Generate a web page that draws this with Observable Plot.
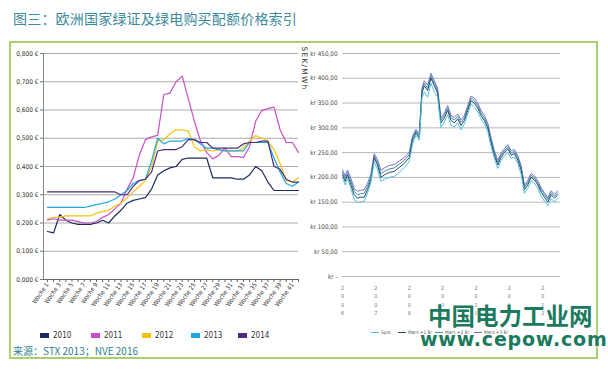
<!DOCTYPE html>
<html><head><meta charset="utf-8">
<script src="https://cdn.jsdelivr.net/npm/d3@7"></script>
<script src="https://cdn.jsdelivr.net/npm/@observablehq/plot@0.6"></script>
<style>
body{margin:0;width:608px;height:369px;background:#fff;position:relative;overflow:hidden;font-family:"Noto Sans CJK SC","Noto Sans",sans-serif;}
#title{position:absolute;left:13px;top:8px;font-size:14px;color:#3b8a9c;letter-spacing:0.2px;white-space:nowrap;}
#box{position:absolute;left:9px;top:41px;width:589px;height:318px;border:2px solid #a9d06e;box-sizing:border-box;}
#left{position:absolute;left:10px;top:44px;}
#right{position:absolute;left:300px;top:44px;}
.narrow{font-family:"Liberation Sans Narrow","DejaVu Sans Condensed",sans-serif;}
#legL .it{position:absolute;top:331px;font-size:8px;color:#333;display:flex;align-items:center;}
#legL .sw{width:9px;height:5px;margin-right:4px;}
#legR .it{position:absolute;top:330px;font-size:4.8px;color:#555;display:flex;align-items:center;white-space:nowrap;}
#legR .ln{width:8px;height:1.3px;margin-right:2px;}
#src{position:absolute;left:13px;top:343px;font-size:10px;color:#2e7f8e;white-space:nowrap;}
#unit{position:absolute;left:274px;top:64px;font-family:"DejaVu Sans",sans-serif;font-size:7.5px;color:#333;transform:rotate(90deg);transform-origin:center;white-space:nowrap;width:60px;text-align:center;letter-spacing:1.2px;}
#wm1{position:absolute;left:428px;top:298px;font-size:23.5px;font-weight:700;color:#1b7a5e;white-space:nowrap;text-shadow:0 0 3px #fff,0 0 3px #fff;}
#wm2{position:absolute;left:420px;top:328px;font-family:"DejaVu Sans",sans-serif;font-size:19px;font-weight:700;color:#1b7a5e;letter-spacing:0.8px;white-space:nowrap;text-shadow:0 0 3px #fff,0 0 3px #fff;}
</style></head>
<body>
<div id="title">图三：欧洲国家绿证及绿电购买配额价格索引</div>
<div id="box"></div>
<div id="left"></div>
<div id="right"></div>
<div id="unit">SEK/MWh</div>
<div id="legL" class="narrow"></div>
<div id="legR" class="narrow"></div>
<div id="src">来源：STX 2013；NVE 2016</div>
<div id="wm1">中国电力工业网</div>
<div id="wm2">www.cepow.com</div>
<script>
// ---------- Left chart data (€ per certificate, by week) ----------
const weeks = [1,2,3,4,5,6,7,8,9,10,11,12,13,14,15,16,17,18,19,20,21,22,23,24,25,26,27,28,29,30,31,32,33,34,35,36,37,38,39,40,41,42];
const leftYears = ["2010","2011","2012","2013","2014"];
const leftColors = ["#1b2a5e","#c94fc9","#f4c20d","#20a7df","#4e2d7e"];
const v2010 = [0.17,0.165,0.23,0.21,0.20,0.195,0.195,0.195,0.20,0.21,0.20,0.225,0.245,0.27,0.28,0.285,0.29,0.32,0.37,0.385,0.395,0.40,0.425,0.43,0.43,0.43,0.43,0.36,0.36,0.36,0.36,0.355,0.355,0.37,0.40,0.385,0.345,0.315,0.315,0.315,0.315,0.315];
const v2011 = [0.21,0.215,0.21,0.21,0.21,0.205,0.20,0.20,0.205,0.22,0.23,0.25,0.27,0.32,0.36,0.44,0.495,0.505,0.51,0.655,0.66,0.70,0.72,0.64,0.56,0.49,0.45,0.427,0.44,0.465,0.435,0.435,0.432,0.47,0.56,0.598,0.605,0.61,0.53,0.485,0.485,0.45];
const v2012 = [0.215,0.22,0.22,0.225,0.225,0.225,0.225,0.225,0.235,0.24,0.245,0.26,0.27,0.29,0.31,0.33,0.35,0.40,0.49,0.495,0.515,0.53,0.53,0.525,0.47,0.455,0.46,0.455,0.46,0.455,0.455,0.455,0.465,0.49,0.51,0.50,0.49,0.46,0.41,0.35,0.345,0.36];
const v2013 = [0.255,0.255,0.255,0.255,0.255,0.255,0.255,0.26,0.265,0.27,0.275,0.285,0.30,0.315,0.34,0.35,0.355,0.42,0.50,0.48,0.49,0.49,0.49,0.50,0.495,0.48,0.465,0.465,0.46,0.455,0.455,0.455,0.455,0.485,0.485,0.485,0.485,0.43,0.38,0.34,0.33,0.345];
const v2014 = [0.31,0.31,0.31,0.31,0.31,0.31,0.31,0.31,0.31,0.31,0.31,0.31,0.30,0.30,0.33,0.35,0.355,0.38,0.455,0.46,0.46,0.46,0.47,0.495,0.495,0.485,0.485,0.465,0.465,0.465,0.465,0.465,0.48,0.485,0.485,0.49,0.49,0.40,0.39,0.355,0.345,0.345];
const leftTicks = [0,0.1,0.2,0.3,0.4,0.5,0.6,0.7,0.8];

// ---------- Right chart data (SEK/MWh) ----------
const dates = [2006.00,2006.08,2006.15,2006.25,2006.35,2006.45,2006.55,2006.65,2006.75,2006.85,2006.95,2007.05,2007.15,2007.25,2007.40,2007.55,2007.70,2007.85,2008.00,2008.10,2008.20,2008.30,2008.38,2008.45,2008.55,2008.65,2008.75,2008.85,2008.95,2009.05,2009.15,2009.25,2009.35,2009.45,2009.55,2009.65,2009.75,2009.85,2009.95,2010.05,2010.15,2010.25,2010.35,2010.45,2010.55,2010.65,2010.75,2010.85,2010.95,2011.05,2011.15,2011.25,2011.35,2011.45,2011.55,2011.65,2011.75,2011.85,2011.95,2012.05,2012.15,2012.25,2012.35,2012.45];
const spot  = [200,185,198,178,155,150,150,152,168,190,232,215,192,196,200,202,210,220,232,268,285,275,360,372,362,390,372,362,300,312,326,305,302,310,296,308,328,348,342,332,318,308,293,262,238,218,234,244,250,238,241,228,207,168,178,193,188,178,162,152,143,157,150,158];
const mars1 = [205,192,205,185,165,158,160,160,175,195,240,225,200,205,210,212,220,228,240,275,290,280,370,385,375,400,385,370,310,320,335,315,310,318,305,315,335,355,350,340,325,315,300,270,245,225,240,250,258,245,248,235,215,175,185,200,195,185,170,160,150,165,158,165];
const mars2 = [210,198,210,192,172,165,167,168,182,200,244,230,207,212,217,219,227,234,246,280,294,284,375,390,380,405,390,375,315,325,340,320,316,323,311,320,340,360,355,345,330,320,305,275,250,230,245,254,262,250,252,240,220,180,190,204,199,189,175,165,155,169,162,169];
const mars3 = [215,203,215,198,178,172,174,175,188,206,248,236,214,219,224,226,233,240,251,284,297,288,380,395,386,410,395,380,320,330,345,325,321,328,316,325,345,364,360,350,335,325,310,280,254,234,249,258,266,254,256,244,224,184,194,208,203,193,179,169,159,173,166,173];
const rightSeries = ["Spot","Mars +1 år","Mars +2 år","Mars +3 år"];
const rightColors = ["#4cc3ea","#2d4858","#3b8db0","#7b72c4"];
const rightTicks = [0,50,100,150,200,250,300,350,400,450];
const yearTicks = [2006,2007,2008,2009,2010,2011,2012];

const narrow = '"Liberation Sans Narrow","DejaVu Sans Condensed",sans-serif';

// Left chart
const leftVals = [v2010,v2011,v2012,v2013,v2014];
const leftData = leftYears.flatMap((yr,i)=>weeks.map((w,j)=>({week:w,value:leftVals[i][j],year:yr})));
const left = Plot.plot({
  width:292, height:282, marginLeft:33, marginRight:4, marginTop:9, marginBottom:47,
  style:{fontFamily:narrow, background:"transparent"},
  x:{domain:[0.35,42], axis:null},
  y:{domain:[0,0.8], axis:null},
  color:{domain:leftYears, range:leftColors},
  marks:[
    Plot.gridY(leftTicks,{stroke:"#a0a0a0", strokeOpacity:1, strokeWidth:0.9}),
    Plot.axisY(leftTicks,{tickSize:3, tickPadding:2, fontSize:6.5, fill:"#333", stroke:"#777",
      tickFormat:d=>d.toFixed(3).replace(".",",")+" €", label:null}),
    Plot.ruleX([0.35],{stroke:"#888", strokeWidth:1}),
    Plot.ruleY([0],{stroke:"#666", strokeWidth:1}),
    Plot.axisX(weeks,{tickSize:3, tickPadding:1, tickRotate:-55, fontSize:6.2, fill:"#333", stroke:"#666",
      tickFormat:d=>d%2===1?"Woche "+d:"", label:null}),
    Plot.line(leftData,{x:"week", y:"value", stroke:"year", strokeWidth:1.2, z:"year"})
  ]
});
document.getElementById("left").appendChild(left);

// Right chart
const rightVals = [spot,mars1,mars2,mars3];
const rightData = [3,2,1,0].flatMap(i=>dates.map((t,j)=>({t, v:rightVals[i][j], s:rightSeries[i]})));
const right = Plot.plot({
  width:296, height:282, marginLeft:42, marginRight:36, marginTop:9, marginBottom:50,
  style:{fontFamily:narrow, background:"transparent"},
  x:{domain:[2006,2012.53], axis:null},
  y:{domain:[0,450], axis:null},
  color:{domain:rightSeries, range:rightColors},
  marks:[
    Plot.gridY(rightTicks,{stroke:"#b0b0b0", strokeOpacity:1, strokeWidth:0.9}),
    Plot.axisY(rightTicks,{tickSize:0, tickPadding:5, fontSize:6.3, fill:"#444",
      tickFormat:d=>d===0?"kr -":"kr "+d.toFixed(2).replace(".",","), label:null}),
    Plot.text(yearTicks,{x:d=>d, y:0, text:d=>String(d).split("").join("\n"), dy:7, lineAnchor:"top",
      fontSize:5.5, lineHeight:1.55, fill:"#777"}),
    Plot.line(rightData,{x:"t", y:"v", stroke:"s", z:"s", strokeWidth:1})
  ]
});
document.getElementById("right").appendChild(right);

// Left legend
const legL = document.getElementById("legL");
const legLX = [40,91,142,191,238];
leftYears.forEach((yr,i)=>{
  const d=document.createElement("div"); d.className="it"; d.style.left=legLX[i]+"px";
  d.innerHTML=`<span class="sw" style="background:${leftColors[i]}"></span>${yr}`;
  legL.appendChild(d);
});
// Right legend
const legR = document.getElementById("legR");
const legRX = [371,398,435,474];
rightSeries.forEach((s,i)=>{
  const d=document.createElement("div"); d.className="it"; d.style.left=legRX[i]+"px";
  d.innerHTML=`<span class="ln" style="background:${rightColors[i]}"></span>${s}`;
  legR.appendChild(d);
});
</script>
</body></html>
